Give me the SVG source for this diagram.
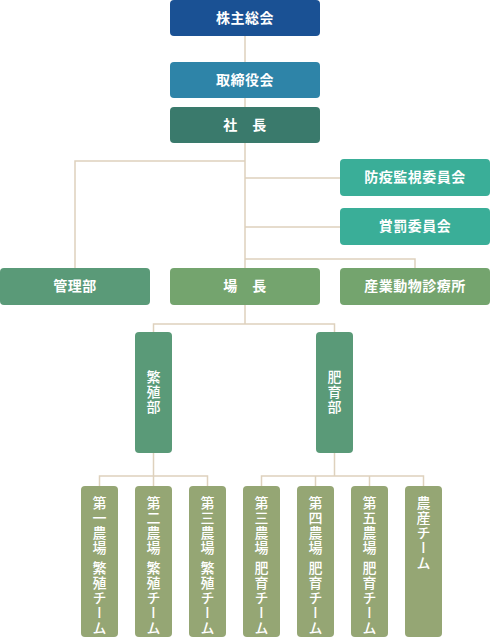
<svg xmlns="http://www.w3.org/2000/svg" width="490" height="637" viewBox="0 0 490 637">
<style>
.h{font-family:"Noto Sans CJK JP","Noto Sans",sans-serif;font-size:14px;font-weight:700;fill:#fff;text-anchor:middle;letter-spacing:0.5px}
.v{font-family:"Noto Sans CJK JP","Noto Sans",sans-serif;font-size:14px;font-weight:500;fill:#fff;writing-mode:vertical-rl;letter-spacing:1px}
.vc{text-anchor:middle}
.ln{fill:none;stroke:#ded1bd;stroke-width:1.5}
</style>
<rect width="490" height="637" fill="#fff"/>
<g id="connectors">
<path class="ln" d="M245 36V62M245 97V107M245 143V268M245 161H75V268M245 178H340M245 227H340M245 259H415V268"/>
<path class="ln" d="M245 305V324H153.5V332M245 324H334.5V332"/>
<path class="ln" d="M153.5 453V476M99.5 486V476H207.5V486M153.5 476V486"/>
<path class="ln" d="M334.5 453V476M261.5 486V476H423.5V486M315.5 476V486M369.5 476V486"/>
</g>
<g id="n-kabunushi"><rect x="170" y="0" width="150" height="36" rx="4" fill="#1a5194"/><text class="h" x="245" y="23">株主総会</text></g>
<g id="n-torishimari"><rect x="170" y="62" width="150" height="36" rx="4" fill="#2e84a8"/><text class="h" x="245" y="85">取締役会</text></g>
<g id="n-shacho"><rect x="170" y="107" width="150" height="36" rx="4" fill="#3a7a6c"/><text class="h" x="245" y="130">社　長</text></g>
<g id="n-boeki"><rect x="340" y="159" width="150" height="37" rx="4" fill="#3aae98"/><text class="h" x="415" y="182">防疫監視委員会</text></g>
<g id="n-shobatsu"><rect x="340" y="208" width="150" height="37" rx="4" fill="#3aae98"/><text class="h" x="415" y="231">賞罰委員会</text></g>
<g id="n-kanri"><rect x="0" y="268" width="150" height="37" rx="4" fill="#5a9a78"/><text class="h" x="75" y="291">管理部</text></g>
<g id="n-jocho"><rect x="170" y="268" width="150" height="37" rx="4" fill="#74a46e"/><text class="h" x="245" y="291">場　長</text></g>
<g id="n-sangyo"><rect x="340" y="268" width="150" height="37" rx="4" fill="#74a46e"/><text class="h" x="415" y="291">産業動物診療所</text></g>
<g id="n-hanshoku"><rect x="135" y="332" width="37" height="121" rx="4" fill="#5a9a78"/><text class="v vc" x="153.5" y="392.5">繁殖部</text></g>
<g id="n-hiiku"><rect x="316" y="332" width="37" height="121" rx="4" fill="#5a9a78"/><text class="v vc" x="334.5" y="392.5">肥育部</text></g>
<g id="n-t1"><rect x="81" y="486" width="37" height="151" rx="4" fill="#95a674"/><text class="v" x="99.5" y="496">第一農場<tspan y="561">繁殖チーム</tspan></text></g>
<g id="n-t2"><rect x="135" y="486" width="37" height="151" rx="4" fill="#95a674"/><text class="v" x="153.5" y="496">第二農場<tspan y="561">繁殖チーム</tspan></text></g>
<g id="n-t3"><rect x="189" y="486" width="37" height="151" rx="4" fill="#95a674"/><text class="v" x="207.5" y="496">第三農場<tspan y="561">繁殖チーム</tspan></text></g>
<g id="n-t4"><rect x="243" y="486" width="37" height="151" rx="4" fill="#95a674"/><text class="v" x="261.5" y="496">第三農場<tspan y="561">肥育チーム</tspan></text></g>
<g id="n-t5"><rect x="297" y="486" width="37" height="151" rx="4" fill="#95a674"/><text class="v" x="315.5" y="496">第四農場<tspan y="561">肥育チーム</tspan></text></g>
<g id="n-t6"><rect x="351" y="486" width="37" height="151" rx="4" fill="#95a674"/><text class="v" x="369.5" y="496">第五農場<tspan y="561">肥育チーム</tspan></text></g>
<g id="n-t7"><rect x="405" y="486" width="37" height="151" rx="4" fill="#95a674"/><text class="v" x="423.5" y="496">農産チーム</text></g>
</svg>
